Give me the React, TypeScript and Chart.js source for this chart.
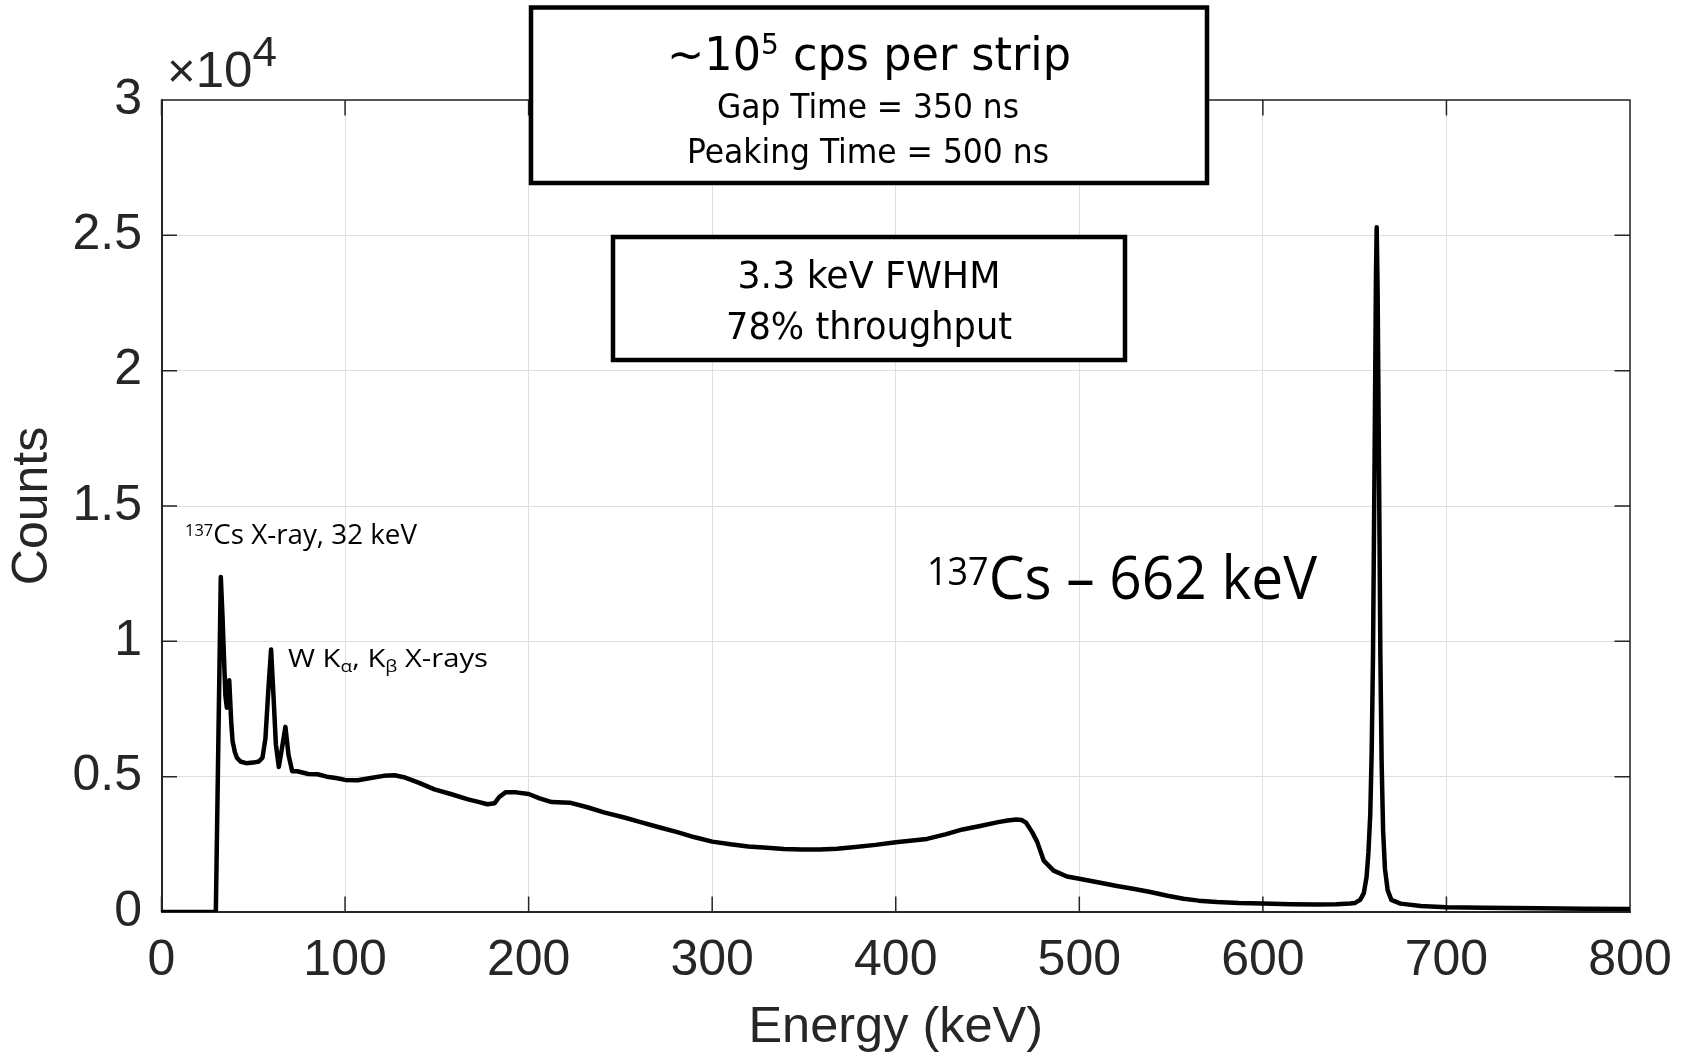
import React, { useEffect, useRef } from "react";
import { Chart, registerables } from "chart.js";

Chart.register(...registerables);

// ---- data ----
const energyKeV: number[] = [
  0, 29.6, 32.3, 33.2, 34.8, 35.6, 36.9, 38.0, 38.7, 40, 41.1, 43, 46, 50, 53, 55, 56.6, 58.2, 59.7,
  61.0, 62.3, 63.9, 65.5, 67.5, 69.2, 71.2, 74, 80, 85, 90, 95, 100, 107, 114, 121, 127, 132, 140,
  148.7, 158, 167, 173.7, 177.5, 181.5, 184, 187.4, 193.2, 200, 206, 212.6, 222.4, 232, 241, 251.6,
  261, 271, 281, 290.5, 300, 310, 319.6, 330, 339, 349, 358.6, 368, 378, 389, 400, 417, 427, 436.4,
  446, 455.8, 461, 465.6, 468.5, 471, 474.3, 477, 480.6, 486, 493.3, 500, 510, 520.5, 530, 538.7,
  548, 556.8, 565, 575, 587, 600, 615, 629.4, 640, 647.5, 650, 653, 655, 656.5, 657.5, 658.5, 659.3,
  660, 661, 661.6, 662.0, 662.5, 663.2, 664, 664.7, 665.5, 666.5, 668, 670, 675, 686, 700, 720, 750,
  775, 800,
];
const counts: number[] = [
  0, 0, 12380, 11000, 8000, 7550, 8560, 7000, 6320, 5900, 5700, 5560, 5500, 5520, 5560, 5700, 6400,
  8200, 9700, 8000, 6200, 5360, 6000, 6840, 5800, 5200, 5200, 5100, 5090, 5000, 4950, 4880, 4870,
  4950, 5030, 5050, 4980, 4780, 4530, 4350, 4160, 4050, 3980, 4020, 4250, 4420, 4420, 4360, 4200,
  4060, 4040, 3870, 3680, 3500, 3320, 3130, 2950, 2760, 2600, 2500, 2420, 2370, 2330, 2310, 2310,
  2340, 2400, 2480, 2580, 2700, 2870, 3050, 3180, 3320, 3380, 3420, 3400, 3300, 2950, 2600, 1900,
  1530, 1310, 1230, 1100, 960, 850, 740, 600, 490, 420, 370, 330, 310, 290, 280, 290, 310, 330, 450,
  700, 1300, 2200, 3600, 6000, 9500, 18000, 23500, 25300, 23000, 17000, 9500, 5500, 3000, 1600, 800,
  450, 310, 220, 180, 160, 140, 120, 110,
];
const xTickValues: number[] = [0, 100, 200, 300, 400, 500, 600, 700, 800];
const yTickValues: number[] = [0, 5000, 10000, 15000, 20000, 25000, 30000];
const yExponent = 4;
const xTitle = "Energy (keV)";
const yTitle = "Counts";

// ---- styling ----
const W = 1686;
const H = 1056;
const AXIS_COLOR = "#262626";
const GRID_COLOR = "#dedede";
const AX_FONT = "'Liberation Sans', Arial, Helvetica, sans-serif";
const BOX_FONT = "'Liberation Sans Narrow', 'DejaVu Sans Condensed', 'Liberation Sans', sans-serif";
const ANN_FONT = "'Open Sans', 'Noto Sans', sans-serif";
const TICK_LEN = 15.5;

type Seg = { t: string; size: number; dy?: number };

function drawRich(
  ctx: CanvasRenderingContext2D,
  segs: Seg[],
  family: string,
  x: number,
  baseline: number,
  align: "left" | "center",
  width?: number,
  color = "#000"
) {
  const widths: number[] = [];
  let total = 0;
  for (const s of segs) {
    ctx.font = `${s.size}px ${family}`;
    const w = ctx.measureText(s.t).width;
    widths.push(w);
    total += w;
  }
  const sx = width ? width / total : 1;
  const start = align === "center" ? x - (total * sx) / 2 : x;
  ctx.save();
  ctx.translate(start, baseline);
  ctx.scale(sx, 1);
  ctx.fillStyle = color;
  ctx.textAlign = "left";
  ctx.textBaseline = "alphabetic";
  let cx = 0;
  segs.forEach((s, i) => {
    ctx.font = `${s.size}px ${family}`;
    ctx.fillText(s.t, cx, s.dy || 0);
    cx += widths[i];
  });
  ctx.restore();
}

function drawBox(ctx: CanvasRenderingContext2D, x: number, y: number, w: number, h: number) {
  ctx.save();
  ctx.fillStyle = "#fff";
  ctx.fillRect(x, y, w, h);
  ctx.strokeStyle = "#000";
  ctx.lineWidth = 4.5;
  ctx.strokeRect(x, y, w, h);
  ctx.restore();
}

const overlayPlugin = {
  id: "overlay",
  beforeDatasetsDraw(chart: any) {
    const { ctx, chartArea: a, scales } = chart;
    ctx.save();
    ctx.strokeStyle = AXIS_COLOR;
    ctx.lineWidth = 1.5;
    ctx.beginPath();
    ctx.moveTo(a.left, a.top);
    ctx.lineTo(a.right, a.top);
    ctx.lineTo(a.right, a.bottom);
    for (const v of xTickValues) {
      const px = scales.x.getPixelForValue(v);
      ctx.moveTo(px, a.bottom);
      ctx.lineTo(px, a.bottom - TICK_LEN);
      ctx.moveTo(px, a.top);
      ctx.lineTo(px, a.top + TICK_LEN);
    }
    for (const v of yTickValues) {
      const py = scales.y.getPixelForValue(v);
      ctx.moveTo(a.left, py);
      ctx.lineTo(a.left + TICK_LEN, py);
      ctx.moveTo(a.right, py);
      ctx.lineTo(a.right - TICK_LEN, py);
    }
    ctx.stroke();
    ctx.restore();
  },
  afterDraw(chart: any) {
    const { ctx } = chart;
    // exponent label
    drawRich(
      ctx,
      [
        { t: "\u00d7", size: 48 },
        { t: "10", size: 50 },
        { t: String(yExponent), size: 43, dy: -21 },
      ],
      AX_FONT,
      167,
      87,
      "left",
      110,
      AXIS_COLOR
    );
    // text boxes
    drawBox(ctx, 531, 7.5, 676, 175.5);
    drawRich(
      ctx,
      [
        { t: "~10", size: 46 },
        { t: "5", size: 29, dy: -16 },
        { t: " cps per strip", size: 46 },
      ],
      BOX_FONT,
      869,
      70,
      "center",
      404
    );
    drawRich(ctx, [{ t: "Gap Time = 350 ns", size: 34.5 }], BOX_FONT, 868, 117.5, "center", 302);
    drawRich(ctx, [{ t: "Peaking Time = 500 ns", size: 34.5 }], BOX_FONT, 868, 162.5, "center", 362);

    drawBox(ctx, 613, 237, 512, 123);
    drawRich(ctx, [{ t: "3.3 keV FWHM", size: 36.5 }], BOX_FONT, 869, 288, "center", 263);
    drawRich(ctx, [{ t: "78% throughput", size: 36.5 }], BOX_FONT, 869, 339, "center", 286);

    // annotations
    drawRich(
      ctx,
      [
        { t: "137", size: 16, dy: -8 },
        { t: "Cs X-ray, 32 keV", size: 27 },
      ],
      ANN_FONT,
      185,
      544,
      "left",
      232
    );
    drawRich(
      ctx,
      [
        { t: "W K", size: 26 },
        { t: "\u03b1", size: 17, dy: 5 },
        { t: ", K", size: 26 },
        { t: "\u03b2", size: 17, dy: 5 },
        { t: " X-rays", size: 26 },
      ],
      ANN_FONT,
      288,
      667,
      "left",
      200
    );
    drawRich(
      ctx,
      [
        { t: "137", size: 38, dy: -14 },
        { t: "Cs \u2013 662 keV", size: 60 },
      ],
      ANN_FONT,
      927,
      599,
      "left",
      390
    );
  },
};

export default function App() {
  const ref = useRef<HTMLCanvasElement | null>(null);

  useEffect(() => {
    document.body.style.margin = "0";
    const canvas = ref.current;
    if (!canvas) return;
    const data = energyKeV.map((e, i) => ({ x: e, y: counts[i] }));
    const chart = new Chart(canvas, {
      type: "line",
      data: {
        datasets: [
          {
            data,
            borderColor: "#000",
            borderWidth: 4.5,
            pointRadius: 0,
            tension: 0,
            fill: false,
            borderJoinStyle: "round",
            borderCapStyle: "round",
          },
        ],
      },
      options: {
        animation: false,
        responsive: false,
        devicePixelRatio: 1,
        layout: { padding: { left: 0, top: 100, right: 56, bottom: 0 } },
        plugins: { legend: { display: false }, tooltip: { enabled: false } },
        scales: {
          x: {
            type: "linear",
            min: 0,
            max: 800,
            afterBuildTicks: (s: any) => {
              s.ticks = xTickValues.map((v) => ({ value: v }));
            },
            afterFit: (s: any) => {
              s.height = 144;
              s.paddingLeft = 0;
              s.paddingRight = 0;
            },
            grid: { color: GRID_COLOR, lineWidth: 1, drawTicks: false },
            border: { display: true, color: AXIS_COLOR, width: 2 },
            ticks: {
              color: AXIS_COLOR,
              font: { family: AX_FONT, size: 50 },
              padding: 19,
              maxRotation: 0,
              autoSkip: false,
            },
            title: {
              display: true,
              text: xTitle,
              color: AXIS_COLOR,
              font: { family: AX_FONT, size: 50.5, lineHeight: 1 },
              padding: { top: 0, bottom: 3 },
            },
          },
          y: {
            type: "linear",
            min: 0,
            max: 30000,
            afterBuildTicks: (s: any) => {
              s.ticks = yTickValues.map((v) => ({ value: v }));
            },
            afterFit: (s: any) => {
              s.width = 161.5;
              s.paddingTop = 0;
              s.paddingBottom = 0;
            },
            grid: { color: GRID_COLOR, lineWidth: 1, drawTicks: false },
            border: { display: true, color: AXIS_COLOR, width: 2 },
            ticks: {
              color: AXIS_COLOR,
              font: { family: AX_FONT, size: 50 },
              padding: 19.5,
              autoSkip: false,
              callback: (v: any) => String(Number(v) / Math.pow(10, yExponent)),
            },
            title: {
              display: true,
              text: yTitle,
              color: AXIS_COLOR,
              font: { family: AX_FONT, size: 50, lineHeight: 1 },
              padding: { top: 8.5, bottom: 0 },
            },
          },
        },
      },
      plugins: [overlayPlugin],
    } as any);
    return () => chart.destroy();
  }, []);

  return (
    <div style={{ position: "fixed", left: 0, top: 0, width: W, height: H, background: "#fff" }}>
      <canvas ref={ref} width={W} height={H} style={{ width: W, height: H, display: "block" }} />
    </div>
  );
}
